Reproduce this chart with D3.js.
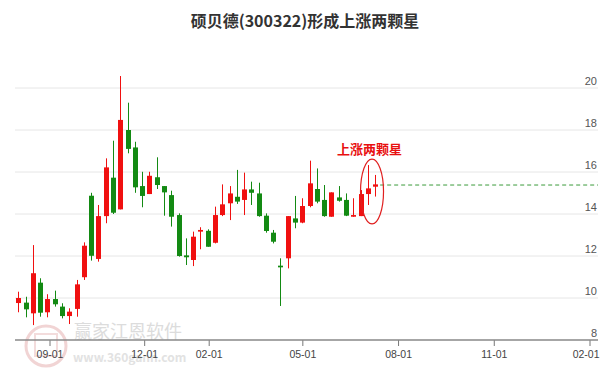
<!DOCTYPE html>
<html>
<head>
<meta charset="utf-8">
<script src="https://cdn.jsdelivr.net/npm/d3@7"></script>
<style>
  body { margin: 0; background: #fff; }
  svg { display: block; font-family: "Noto Sans CJK SC", "Noto Sans", sans-serif; }
</style>
</head>
<body>
<div id="chart"></div>
<script>
// weekly candles, 硕贝德 300322
const dates = [
  '2019-08-02','2019-08-09','2019-08-16','2019-08-23','2019-08-30',
  '2019-09-06','2019-09-13','2019-09-20','2019-09-27','2019-10-04',
  '2019-10-11','2019-10-18','2019-10-25','2019-11-01','2019-11-08',
  '2019-11-15','2019-11-22','2019-11-29','2019-12-06','2019-12-13',
  '2019-12-20','2019-12-27','2020-01-03','2020-01-10','2020-01-17',
  '2020-01-24','2020-01-31','2020-02-07','2020-02-14','2020-02-21',
  '2020-02-28','2020-03-06','2020-03-13','2020-03-20','2020-03-27',
  '2020-04-03','2020-04-10','2020-04-17','2020-04-24','2020-05-01',
  '2020-05-08','2020-05-15','2020-05-22','2020-05-29','2020-06-05',
  '2020-06-12','2020-06-19','2020-06-26','2020-07-03','2020-07-10'
];
const open = [
  9.76, 9.78, 9.27, 10.73, 9.32, 9.95, 9.59, 9.14, 9.48, 10.99,
  14.87, 11.86, 13.90, 15.73, 14.22, 18.00, 17.17, 15.33, 14.95, 15.75,
  15.33, 14.90, 13.95, 12.03, 11.81, 13.16, 13.20, 12.63, 13.95, 14.51,
  14.82, 14.67, 15.17, 14.98, 13.92, 13.11, 11.54, 11.89, 13.79, 13.59,
  14.38, 15.19, 14.67, 13.87, 14.79, 14.67, 13.87, 13.90, 14.95, 15.30
];
const close = [
  10.00, 9.46, 11.18, 9.30, 9.95, 9.70, 9.14, 9.35, 10.65, 12.49,
  12.01, 13.90, 16.22, 14.06, 18.48, 17.10, 15.27, 14.86, 15.82, 15.38,
  15.03, 13.87, 12.00, 11.94, 12.92, 13.24, 12.44, 13.95, 14.46, 14.98,
  14.59, 15.17, 15.01, 13.90, 13.19, 12.68, 11.46, 13.90, 13.59, 14.38,
  15.46, 14.59, 13.90, 15.03, 14.63, 13.92, 13.95, 14.95, 15.22, 15.41
];
const high = [
  10.30, 10.06, 12.52, 10.94, 10.18, 10.35, 9.75, 9.51, 10.86, 12.65,
  15.01, 14.43, 16.65, 17.49, 20.57, 19.30, 17.44, 16.01, 16.01, 16.70,
  15.33, 15.11, 14.03, 12.84, 13.16, 13.37, 13.27, 14.35, 15.41, 15.33,
  16.10, 15.97, 15.54, 15.49, 14.03, 13.24, 11.89, 13.90, 14.86, 14.75,
  16.54, 16.17, 15.38, 15.03, 15.33, 14.98, 14.75, 15.14, 16.33, 15.86
];
const low = [
  9.32, 9.08, 8.71, 9.11, 9.08, 9.59, 9.03, 8.76, 9.11, 10.86,
  11.78, 11.73, 13.56, 14.00, 14.22, 16.89, 15.01, 14.32, 14.95, 15.19,
  13.92, 13.40, 11.97, 11.57, 11.52, 12.32, 12.44, 12.60, 13.90, 13.71,
  14.48, 13.95, 14.43, 13.87, 13.11, 12.60, 9.62, 11.41, 13.32, 13.56,
  14.32, 14.51, 13.87, 13.87, 14.59, 13.90, 13.87, 13.90, 14.43, 14.83
];
const yTicks = [8, 10, 12, 14, 16, 18, 20];
const xTicks = ['2019-09-01','2019-12-01','2020-02-01','2020-05-01','2020-08-01','2020-11-01','2021-02-01'];
const signalLevel = 15.38;   // dashed line level
const signalIdx = [48, 49];  // the two star candles
const title = '硕贝德(300322)形成上涨两颗星';
const note = '上涨两颗星';

(function() {
  const width = 600, height = 371;
  const left = 15, right = 598, plotTop = 88, plotBottom = 340;
  const up = '#f01010', down = '#138a13';

  const parse = d3.timeParse('%Y-%m-%d');
  const candles = dates.map((d, i) => ({
    date: parse(d), open: open[i], close: close[i], high: high[i], low: low[i]
  }));

  const svg = d3.select('#chart').append('svg')
    .attr('width', width).attr('height', height);

  // time axis anchored on the first and last tick
  const x = d3.scaleTime()
    .domain([parse(xTicks[0]), parse(xTicks[xTicks.length - 1])])
    .range([49.5, 589.5]);
  const y = d3.scaleLinear().domain([8, 20]).range([plotBottom, plotTop]);

  // watermark
  const wm = svg.append('g');
  wm.append('circle').attr('cx', 46).attr('cy', 346).attr('r', 20)
    .attr('fill', 'none').attr('stroke', '#f1d4d4').attr('stroke-width', 3);
  wm.append('rect').attr('x', 35).attr('y', 334).attr('width', 22).attr('height', 22)
    .attr('fill', 'none').attr('stroke', '#f3dcdc').attr('stroke-width', 2);
  wm.append('text').attr('x', 74).attr('y', 338)
    .attr('font-size', 18).attr('fill', '#dcdcdc').text('赢家江恩软件');
  wm.append('text').attr('x', 73).attr('y', 362)
    .attr('font-size', 12).attr('font-weight', 'bold').attr('fill', '#e2e2e2')
    .text('www.360gann.com');

  // grid
  svg.append('g').selectAll('line')
    .data(yTicks.filter(t => t > 8))
    .join('line')
    .attr('x1', left).attr('x2', right)
    .attr('y1', d => y(d)).attr('y2', d => y(d))
    .attr('stroke', '#e6e6e6').attr('stroke-width', 1);

  // y labels on the right, sitting on the grid lines
  svg.append('g').selectAll('text')
    .data(yTicks)
    .join('text')
    .attr('x', 597).attr('y', d => y(d) - 3)
    .attr('text-anchor', 'end')
    .attr('font-size', 11).attr('fill', '#555')
    .style('font-family', '"Liberation Sans", Arial, sans-serif')
    .text(d => d);

  // x axis
  const xAxis = svg.append('g')
    .attr('transform', `translate(0,${plotBottom})`)
    .call(d3.axisBottom(x)
      .tickValues(xTicks.map(parse))
      .tickFormat(d3.timeFormat('%m-%d'))
      .tickSize(6).tickSizeOuter(0));
  xAxis.select('.domain').remove();
  xAxis.selectAll('.tick line').attr('stroke', '#777');
  xAxis.selectAll('.tick text')
    .attr('font-size', 10.5).attr('fill', '#444').attr('dy', '0.9em')
    .style('font-family', '"Liberation Sans", Arial, sans-serif');
  // keep the last label inside the frame
  xAxis.selectAll('.tick text')
    .filter((d, i, n) => i === n.length - 1)
    .attr('text-anchor', 'end').attr('x', 9.5);
  svg.append('line')
    .attr('x1', left).attr('x2', right)
    .attr('y1', plotBottom).attr('y2', plotBottom)
    .attr('stroke', '#888').attr('stroke-width', 1.5);

  // candles
  const bw = 5;
  const g = svg.append('g');
  g.selectAll('line.wick')
    .data(candles)
    .join('line')
    .attr('class', 'wick')
    .attr('x1', d => Math.round(x(d.date)) + 0.5)
    .attr('x2', d => Math.round(x(d.date)) + 0.5)
    .attr('y1', d => y(d.high)).attr('y2', d => y(d.low))
    .attr('stroke', d => d.close >= d.open ? up : down)
    .attr('stroke-width', 1);
  g.selectAll('rect')
    .data(candles)
    .join('rect')
    .attr('x', d => Math.round(x(d.date)) + 0.5 - bw / 2)
    .attr('y', d => y(Math.max(d.open, d.close)))
    .attr('width', bw)
    .attr('height', d => Math.max(1.5, Math.abs(y(d.open) - y(d.close))))
    .attr('fill', d => d.close >= d.open ? up : down);

  // dashed level line after the last candle
  const last = candles[candles.length - 1];
  svg.append('line')
    .attr('x1', x(last.date) + 5).attr('x2', right)
    .attr('y1', y(signalLevel)).attr('y2', y(signalLevel))
    .attr('stroke', '#3a9a3a').attr('stroke-width', 1)
    .attr('stroke-dasharray', '4,3');

  // ellipse around the two stars
  const s = signalIdx.map(i => candles[i]);
  const cx = (x(s[0].date) + x(s[1].date)) / 2;
  const hi = d3.max(s, d => d.high), lo = d3.min(s, d => d.low);
  const eTop = y(hi) - 6, eBot = y(lo) + 19;
  svg.append('ellipse')
    .attr('cx', cx + 0.5).attr('cy', (eTop + eBot) / 2)
    .attr('rx', 11.5).attr('ry', (eBot - eTop) / 2)
    .attr('fill', 'none').attr('stroke', '#e02020').attr('stroke-width', 1.2);
  svg.append('text')
    .attr('x', cx - 2).attr('y', 154)
    .attr('text-anchor', 'middle')
    .attr('font-size', 13).attr('font-weight', 'bold').attr('fill', '#e81010')
    .text(note);

  // title
  svg.append('text')
    .attr('x', 305).attr('y', 27)
    .attr('text-anchor', 'middle')
    .attr('font-size', 16).attr('font-weight', 'bold').attr('fill', '#333')
    .text(title);
})();
</script>
</body>
</html>
